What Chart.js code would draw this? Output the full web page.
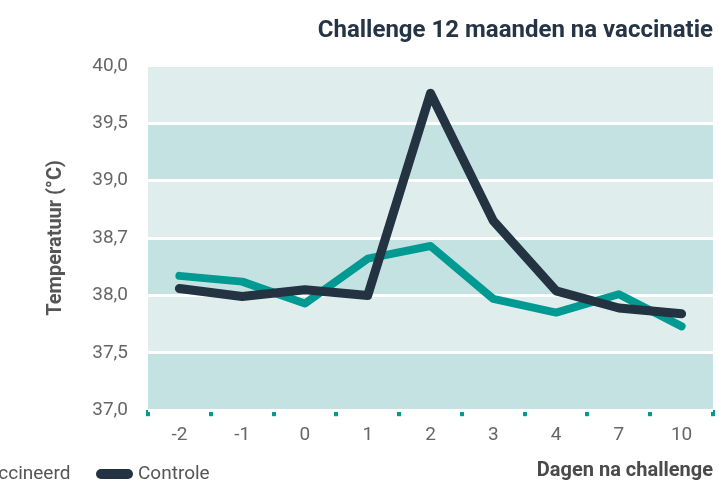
<html>
<head>
	<meta charset="utf-8">
	<title>Challenge 12 maanden na vaccinatie</title>
	<script src="https://cdn.jsdelivr.net/npm/chart.js@4/dist/chart.umd.min.js"></script>
	<style>
		body { margin: 0; background: #fff; }
		#wrap { width: 719px; height: 483px; }
	</style>
</head>
<body>
	<div id="wrap"><canvas id="myChart"></canvas></div>

	<script>
		// dagen na challenge
		var dagen = ["-2", "-1", "0", "1", "2", "3", "4", "7", "10"];

		// temperatuur (°C)
		var gevaccineerd = [38.17, 38.12, 37.93, 38.32, 38.43, 37.97, 37.85, 38.01, 37.73];
		var controle     = [38.06, 37.99, 38.05, 38.00, 39.76, 38.65, 38.04, 37.89, 37.84];

		// labels van de y-as (zoals in het origineel, 38,7 op de plaats van 38,5)
		var yTickLabels = ["37,0", "37,5", "38,0", "38,7", "39,0", "39,5", "40,0"];

		var kleurTeal = "#009a93";
		var kleurDonker = "#243342";
		var bandLicht = "#dfeeed";
		var bandDonker = "#c4e2e1";
		var lettertype = "'Roboto', sans-serif";

		// achtergrondbanden tussen de ticks van de y-as
		var bandenPlugin = {
			id: 'banden',
			beforeDraw: function(chart) {
				var ctx = chart.ctx;
				var area = chart.chartArea;
				var ticks = chart.scales.y.ticks;
				for (var i = 0; i < ticks.length - 1; i++) {
					var y1 = chart.scales.y.getPixelForValue(ticks[i].value);
					var y2 = chart.scales.y.getPixelForValue(ticks[i + 1].value);
					ctx.fillStyle = (i % 2 == 0) ? bandDonker : bandLicht;
					ctx.fillRect(area.left, y2, area.right - area.left, y1 - y2);
				}
			}
		};

		// legenda linksonder, deels buiten beeld zoals in het origineel
		var legendaPlugin = {
			id: 'legenda',
			afterDraw: function(chart) {
				var ctx = chart.ctx;
				var y = 474;
				var items = [
					{ tekst: chart.data.datasets[0].label, kleur: chart.data.datasets[0].borderColor, x: -86 },
					{ tekst: chart.data.datasets[1].label, kleur: chart.data.datasets[1].borderColor, x: 96 }
				];
				ctx.save();
				ctx.font = "19px " + lettertype;
				ctx.textBaseline = "middle";
				for (var i = 0; i < items.length; i++) {
					ctx.strokeStyle = items[i].kleur;
					ctx.lineWidth = 10;
					ctx.lineCap = "round";
					ctx.beginPath();
					ctx.moveTo(items[i].x + 5, y);
					ctx.lineTo(items[i].x + 32, y);
					ctx.stroke();
					ctx.fillStyle = "#555";
					ctx.fillText(items[i].tekst, items[i].x + 42, y);
				}
				ctx.restore();
			}
		};

		var ctx = document.getElementById('myChart').getContext('2d');
		var chart = new Chart(ctx, {
			type: 'line',
			data: {
				labels: dagen,
				datasets: [{
					label: 'Gevaccineerd',
					data: gevaccineerd,
					borderColor: kleurTeal,
					borderWidth: 8,
					borderCapStyle: 'round',
					borderJoinStyle: 'round',
					pointRadius: 0,
					tension: 0,
					order: 2
				},
				{
					label: 'Controle',
					data: controle,
					borderColor: kleurDonker,
					borderWidth: 9,
					borderCapStyle: 'round',
					borderJoinStyle: 'round',
					pointRadius: 0,
					tension: 0,
					order: 1
				}]
			},
			options: {
				responsive: true,
				maintainAspectRatio: false,
				animation: false,
				layout: { padding: { left: 0, right: 6, top: 0, bottom: 0 } },
				plugins: {
					legend: { display: false },
					tooltip: { enabled: false },
					title: {
						display: true,
						text: 'Challenge 12 maanden na vaccinatie',
						align: 'end',
						color: '#253545',
						font: { family: lettertype, size: 24, weight: 'bold' },
						padding: { top: 17, bottom: 20 }
					}
				},
				scales: {
					x: {
						offset: true,
						border: { display: false },
						grid: {
							offset: true,
							drawOnChartArea: false,
							color: kleurTeal,
							tickColor: kleurTeal,
							tickLength: 6,
							lineWidth: 4
						},
						ticks: {
							color: '#666',
							font: { family: lettertype, size: 19 },
							padding: 8
						},
						title: {
							display: true,
							text: 'Dagen na challenge',
							align: 'end',
							color: '#4a4a4a',
							font: { family: lettertype, size: 20, weight: 'bold' },
							padding: { top: 4, bottom: 0 }
						}
					},
					y: {
						min: 37,
						max: 40,
						border: { display: false },
						grid: {
							color: '#ffffff',
							lineWidth: 3,
							drawTicks: false
						},
						ticks: {
							stepSize: 0.5,
							color: '#666',
							font: { family: lettertype, size: 19 },
							padding: 20,
							callback: function(value, index) {
								return yTickLabels[index];
							}
						},
						title: {
							display: true,
							text: 'Temperatuur (°C)',
							color: '#555',
							font: { family: lettertype, size: 20, weight: 'bold' },
							padding: { top: 44, bottom: 18 }
						},
						afterFit: function(scale) {
							scale.width = 148;
						}
					}
				}
			},
			plugins: [bandenPlugin, legendaPlugin]
		});
	</script>
</body>
</html>
